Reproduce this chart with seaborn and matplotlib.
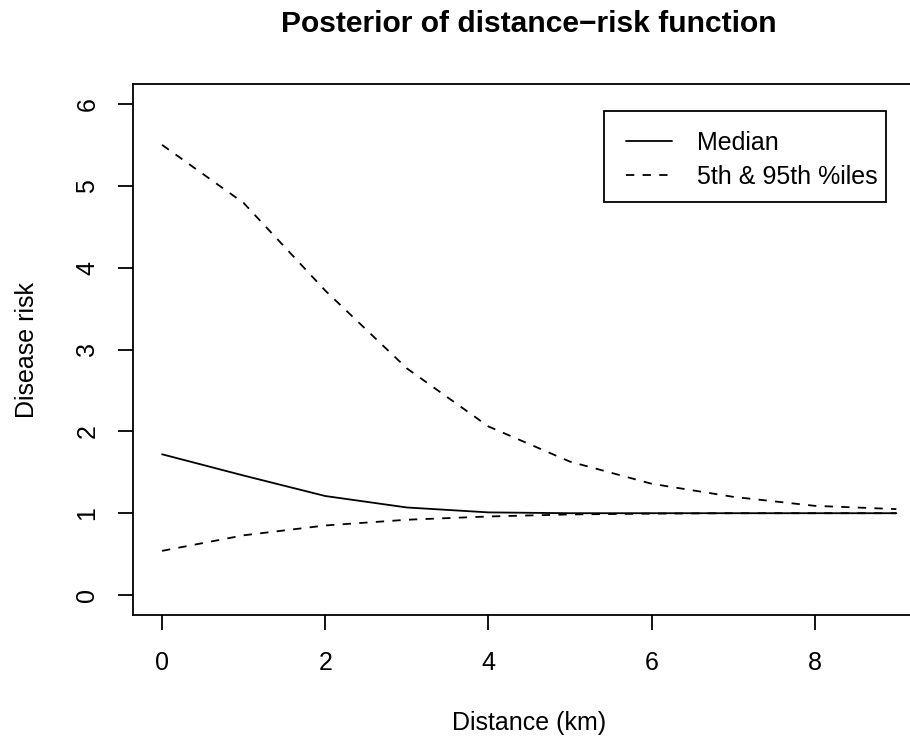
import matplotlib
matplotlib.use("Agg")
import matplotlib.pyplot as plt
import numpy as np
import pandas as pd
import seaborn as sns
from matplotlib.lines import Line2D
from matplotlib.patches import Rectangle

# ---- data ----
distance_km = [0, 1, 2, 3, 4, 5, 6, 7, 8, 9]
median_risk = [1.72, 1.46, 1.21, 1.07, 1.01, 1.00, 1.00, 1.00, 1.00, 1.00]
lower_5th = [0.54, 0.73, 0.85, 0.92, 0.96, 0.985, 0.995, 1.00, 1.00, 1.00]
upper_95th = [5.50, 4.79, 3.72, 2.77, 2.06, 1.63, 1.36, 1.20, 1.09, 1.05]
x_ticks = [0, 2, 4, 6, 8]
y_ticks = [0, 1, 2, 3, 4, 5, 6]
legend_labels = ["Median", "5th & 95th %iles"]
title = "Posterior of distance\u2212risk function"
x_label = "Distance (km)"
y_label = "Disease risk"

sns.set_style("white")
plt.rcParams["font.family"] = ["Liberation Sans", "DejaVu Sans"]
plt.rcParams["text.color"] = "black"
plt.rcParams["axes.labelcolor"] = "black"
plt.rcParams["xtick.color"] = "black"
plt.rcParams["ytick.color"] = "black"

W, H = 910, 739
fig = plt.figure(figsize=(W / 100, H / 100), dpi=100)
L, R, B, T = 132.7, 925.7, 614.7, 84.3
ax = fig.add_axes([L / W, 1 - B / H, (R - L) / W, (B - T) / H])

df = pd.DataFrame({
    "distance": distance_km,
    "median": median_risk,
    "lower": lower_5th,
    "upper": upper_95th,
})

lw = 1.3
dash = (0, (4.6, 4.6))
sns.lineplot(data=df, x="distance", y="median", ax=ax, color="black",
             linewidth=lw, legend=False)
sns.lineplot(data=df, x="distance", y="lower", ax=ax, color="black",
             linewidth=lw, linestyle=dash, legend=False)
sns.lineplot(data=df, x="distance", y="upper", ax=ax, color="black",
             linewidth=lw, linestyle=dash, legend=False)

ax.set_xlim(-0.36, 9.36)
ax.set_ylim(-0.24, 6.24)
ax.set_xticks(x_ticks)
ax.set_yticks(y_ticks)
ax.set_xticklabels([str(v) for v in x_ticks])
ax.set_yticklabels([str(v) for v in y_ticks])

for s in ax.spines.values():
    s.set_visible(True)
    s.set_color("black")
    s.set_linewidth(lw)

ax.tick_params(axis="both", which="both", direction="out", length=11,
               width=lw, colors="black", labelsize=18, labelcolor="black",
               bottom=True, left=True, top=False, right=False)
ax.tick_params(axis="x", pad=15)
ax.tick_params(axis="y", pad=13, labelrotation=90)
for t in ax.get_yticklabels():
    t.set_va("center")

ax.set_xlabel(x_label, fontsize=18, color="black")
ax.set_ylabel(y_label, fontsize=18, color="black")
ax.xaxis.label.set_va("baseline")
ax.xaxis.set_label_coords(0.5, (B - 730) / (B - T))
ax.yaxis.label.set_va("baseline")
ax.yaxis.set_label_coords((33.5 - L) / (R - L), 0.5)

fig.text(529 / W, 1 - 32 / H, title, ha="center", va="baseline",
         fontsize=21.6, fontweight="bold", color="black")

# legend frame (R-style box) and legend entries
bx0, bx1, by0, by1 = 604, 886, 110.7, 201.7
ax.add_patch(Rectangle((bx0 / W, 1 - by1 / H), (bx1 - bx0) / W,
                       (by1 - by0) / H, transform=fig.transFigure,
                       facecolor="white", edgecolor="black", linewidth=lw,
                       clip_on=False, zorder=4))
handles = [Line2D([], [], color="black", linewidth=lw),
           Line2D([], [], color="black", linewidth=lw, linestyle=dash)]
leg = ax.legend(handles, legend_labels, loc="upper left",
                bbox_to_anchor=(626 / W, 1 - 131 / H),
                bbox_transform=fig.transFigure, borderaxespad=0,
                frameon=False, fontsize=18, handlelength=1.84,
                handletextpad=1.0, borderpad=0, labelspacing=0.38)
leg.set_zorder(5)

fig.savefig("out.png", dpi=100)
